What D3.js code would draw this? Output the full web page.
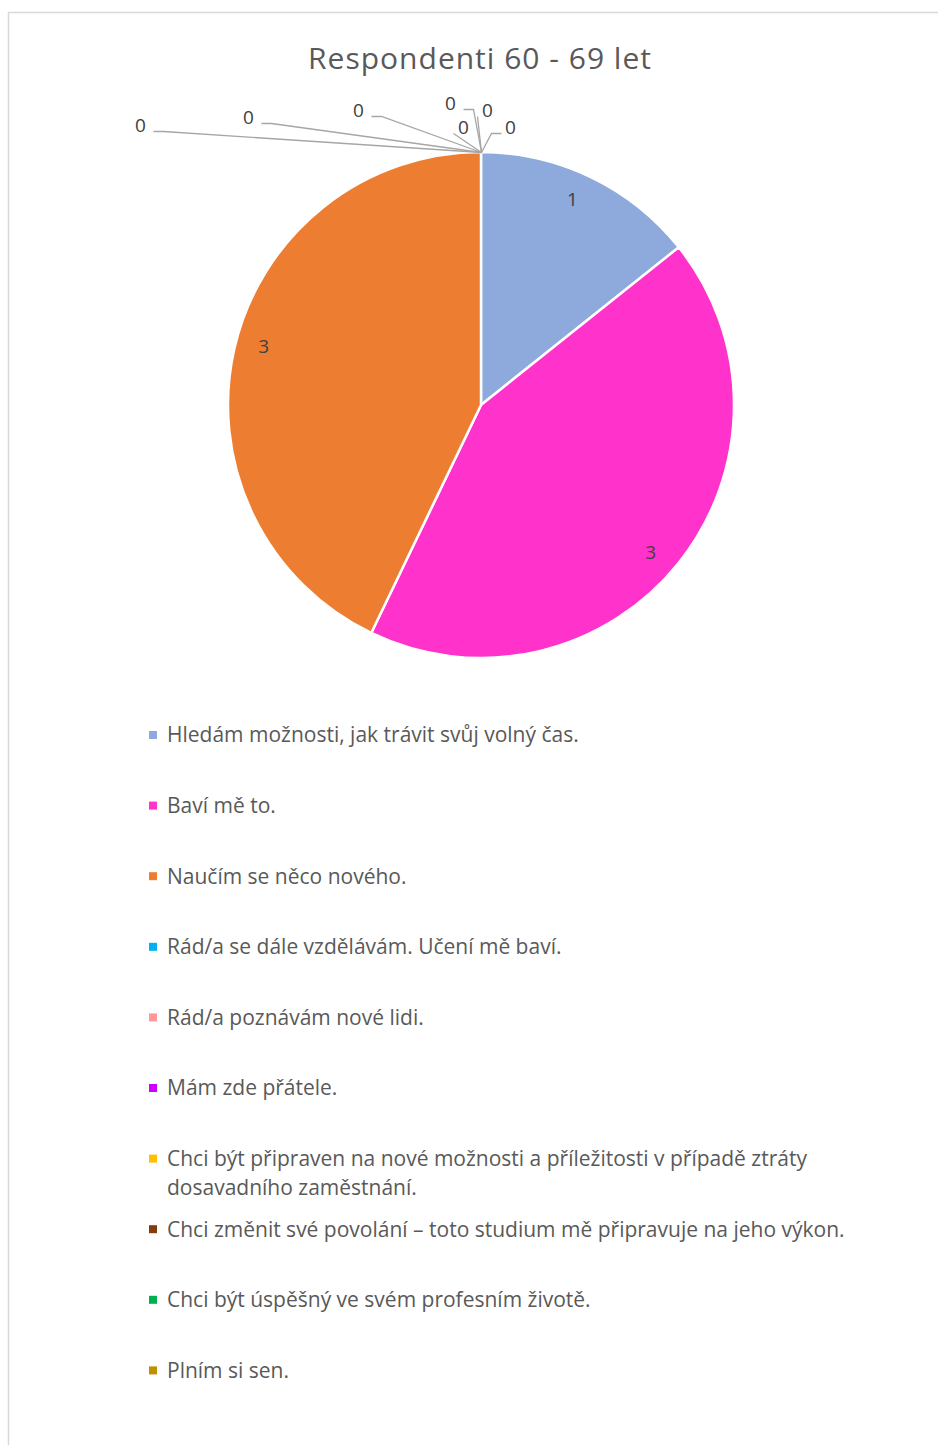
<!DOCTYPE html>
<html>
<head>
<meta charset="utf-8">
<script src="https://cdn.jsdelivr.net/npm/d3@7"></script>
<style>
  html, body { margin: 0; padding: 0; background: #fff; }
  svg { display: block; }
</style>
</head>
<body>
<svg id="chart" width="938" height="1445"></svg>
<script>
// Survey answers of respondents aged 60-69
const title = "Respondenti  60 - 69 let";
const categories = [
  "Hledám možnosti, jak trávit svůj volný čas.",
  "Baví mě to.",
  "Naučím se něco nového.",
  "Rád/a se dále vzdělávám. Učení mě baví.",
  "Rád/a poznávám nové lidi.",
  "Mám zde přátele.",
  "Chci být připraven na nové možnosti a příležitosti v případě ztráty dosavadního zaměstnání.",
  "Chci změnit své povolání – toto studium mě připravuje na jeho výkon.",
  "Chci být úspěšný ve svém profesním životě.",
  "Plním si sen."
];
const values = [1, 3, 3, 0, 0, 0, 0, 0, 0, 0];
const colors = [
  "#8EA9DB", "#FF33CC", "#ED7D31", "#00B0F0", "#FF9999",
  "#CC00FF", "#FFC000", "#843C0C", "#00B050", "#BF9000"
];

// Layout
const W = 938, H = 1445;
const cx = 481, cy = 405, R = 253;
const labelR = 225;
// label angles (degrees, clockwise from top) for the non-zero slices, best-fit style
const labelAngleDeg = { 0: 24, 1: 131, 2: 285 };
// offsets of zero-value labels from the slice anchor, with a short horizontal leader end
const zeroLabelOffsets = [
  { dx: -341, dy: -27, side: "left" },
  { dx: -233, dy: -35, side: "left" },
  { dx: -123, dy: -42, side: "left" },
  { dx: -31,  dy: -49, side: "left" },
  { dx: 6,    dy: -42, side: "none" },
  { dx: -18,  dy: -25, side: "none" },
  { dx: 29,   dy: -25, side: "right" }
];
const legendX = 149, legendTop = 735, legendStep = 70.6, legendWrap = 700;
const textColor = "#595959";
const labelColor = "#404040";
const font = "'Open Sans', sans-serif";

const svg = d3.select("#chart");

// outer frame
svg.append("path")
  .attr("d", `M8.5,${H} V12.5 H${W}`)
  .attr("fill", "none")
  .attr("stroke", "#D9D9D9")
  .attr("stroke-width", 1.5);

// title
svg.append("text")
  .attr("x", 480).attr("y", 69)
  .attr("text-anchor", "middle")
  .attr("font-family", font)
  .attr("font-size", 30)
  .attr("letter-spacing", 1)
  .attr("fill", textColor)
  .text(title);

const data = categories.map((c, i) => ({ name: c, value: values[i], color: colors[i], i }));

const pie = d3.pie().value(d => d.value).sort(null);
const arcs = pie(data);
const arc = d3.arc().innerRadius(0).outerRadius(R);

const g = svg.append("g").attr("transform", `translate(${cx},${cy})`);

g.selectAll("path.slice")
  .data(arcs.filter(a => a.data.value > 0))
  .join("path")
  .attr("class", "slice")
  .attr("d", arc)
  .attr("fill", d => d.data.color)
  .attr("stroke", "#fff")
  .attr("stroke-width", 2.5)
  .attr("stroke-linejoin", "round");

// value labels for non-zero slices
arcs.filter(a => a.data.value > 0).forEach(a => {
  const deg = labelAngleDeg[a.data.i] !== undefined
    ? labelAngleDeg[a.data.i]
    : ((a.startAngle + a.endAngle) / 2) * 180 / Math.PI;
  const t = deg * Math.PI / 180;
  g.append("text")
    .attr("x", labelR * Math.sin(t))
    .attr("y", -labelR * Math.cos(t))
    .attr("dy", "0.35em")
    .attr("text-anchor", "middle")
    .attr("font-family", font)
    .attr("font-size", 19)
    .attr("fill", labelColor)
    .text(a.data.value);
});

// zero-value labels with leader lines to the slice point on the rim
const zeroArcs = arcs.filter(a => a.data.value === 0);
zeroArcs.forEach((a, k) => {
  const ang = a.startAngle;
  const ax = R * Math.sin(ang) + 0.5, ay = -R * Math.cos(ang) + 0.5;
  const o = zeroLabelOffsets[k % zeroLabelOffsets.length];
  const lx = ax + o.dx, ly = ay + o.dy;
  let pts;
  if (o.side === "left") {
    const ex = lx + 13, ey = ly + 6;
    pts = [[ex, ey], [ex + 10, ey], [ax, ay]];
  } else if (o.side === "right") {
    const ex = lx - 9, ey = ly + 6;
    pts = [[ex, ey], [ex - 10, ey], [ax, ay]];
  } else {
    pts = [[lx - 10, ly + 6], [ax, ay]];
  }
  g.append("path")
    .attr("d", d3.line()(pts))
    .attr("fill", "none")
    .attr("stroke", "#A6A6A6")
    .attr("stroke-width", 1.3);
  g.append("text")
    .attr("x", lx).attr("y", ly)
    .attr("dy", "0.35em")
    .attr("text-anchor", "middle")
    .attr("font-family", font)
    .attr("font-size", 19)
    .attr("fill", labelColor)
    .text(a.data.value);
});

// legend
const legend = svg.append("g");
data.forEach((d, i) => {
  const y = legendTop + i * legendStep;
  legend.append("rect")
    .attr("x", legendX).attr("y", y - 4)
    .attr("width", 8).attr("height", 8)
    .attr("fill", d.color);
  const txt = legend.append("text")
    .attr("x", legendX + 18).attr("y", y)
    .attr("font-family", font)
    .attr("font-size", 21)
    .attr("fill", textColor);
  // wrap long entries
  const words = d.name.split(" ");
  let line = [];
  let tspan = txt.append("tspan").attr("x", legendX + 18).attr("dy", "0.35em");
  words.forEach(w => {
    line.push(w);
    tspan.text(line.join(" "));
    if (tspan.node().getComputedTextLength() > legendWrap && line.length > 1) {
      line.pop();
      tspan.text(line.join(" "));
      line = [w];
      tspan = txt.append("tspan").attr("x", legendX + 18).attr("dy", 29).text(w);
    }
  });
});
</script>
</body>
</html>
